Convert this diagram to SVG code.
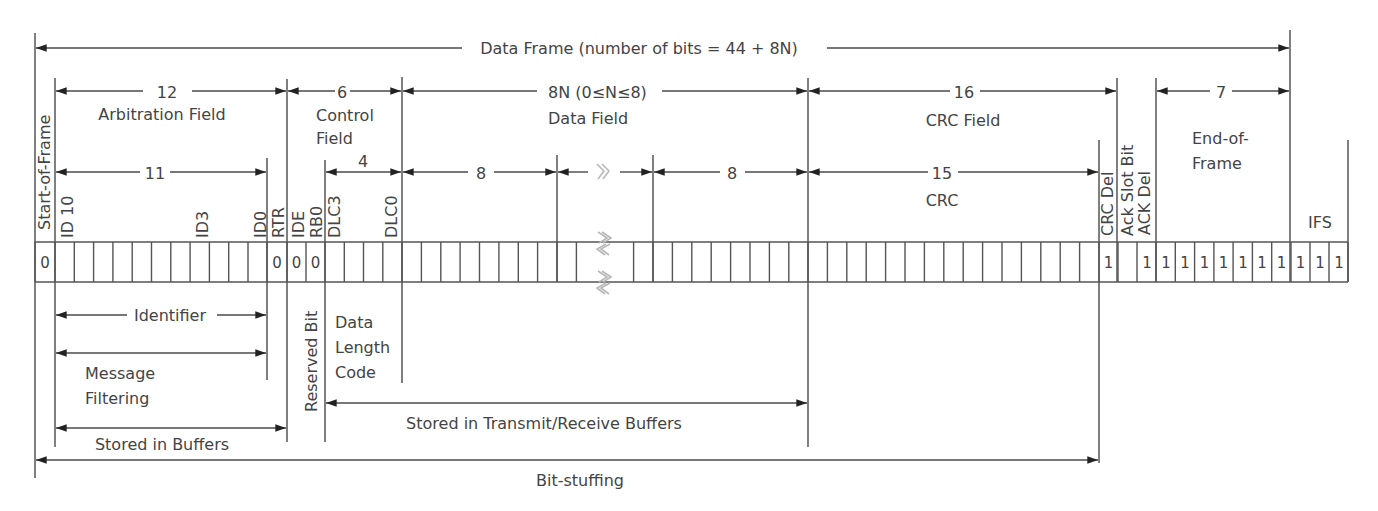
<svg xmlns="http://www.w3.org/2000/svg" width="1378" height="511" viewBox="0 0 1378 511">
<defs>
<marker id="ae" viewBox="0 0 10 7" refX="10" refY="3.5" markerWidth="11" markerHeight="7.5" markerUnits="userSpaceOnUse" orient="auto"><path d="M0,0 L10,3.5 L0,7 z" fill="#222"/></marker>
<marker id="as" viewBox="0 0 10 7" refX="0" refY="3.5" markerWidth="11" markerHeight="7.5" markerUnits="userSpaceOnUse" orient="auto"><path d="M10,0 L0,3.5 L10,7 z" fill="#222"/></marker>
<style>
.ln{stroke:#4a4a4a;stroke-width:1.4;fill:none}
.cl{stroke:#555;stroke-width:1.4;fill:none}
.d{stroke:#4a4a4a;stroke-width:1.4;fill:none}
.ds{marker-start:url(#as)}
.de{marker-end:url(#ae)}
.br{stroke:#b8b8b8;stroke-width:1.6;fill:none}
text{font-family:"DejaVu Sans","Liberation Sans",sans-serif;font-size:16px;fill:#444}
.c{text-anchor:middle;dominant-baseline:central}
.l{dominant-baseline:central}
.b{font-size:15px;text-anchor:middle;dominant-baseline:central}
</style>
</defs>
<rect width="1378" height="511" fill="#ffffff"/>

<g id="connectors">
<path class="ln" d="M35,33 V478 M55,78 V447 M267,158 V380 M287,79 V442 M325,160 V442 M402,77 V383 M808,78 V447 M1099,140 V463 M1117,78 V282 M1156,78 V282 M1290,30 V282 M1348,140 V282 M557,155 V282 M653,155 V282"/>
<path class="d ds" d="M36,48 H462"/>
<path class="d de" d="M827,48 H1289"/>
<path class="d ds" d="M56,91 H143"/><path class="d de" d="M192,91 H286"/>
<path class="d ds" d="M288,91 H335"/><path class="d de" d="M350,91 H401"/>
<path class="d ds" d="M403,91 H537"/><path class="d de" d="M662,91 H807"/>
<path class="d ds" d="M809,91 H950"/><path class="d de" d="M980,91 H1116"/>
<path class="d ds" d="M1157,91 H1210"/><path class="d de" d="M1232,91 H1289"/>
<path class="d ds" d="M56,172 H140"/><path class="d de" d="M170,172 H266"/>
<path class="d ds de" d="M326,172 H401"/>
<path class="d ds" d="M403,172 H468"/><path class="d de" d="M494,172 H556"/>
<path class="d ds" d="M558,172 H588"/><path class="d de" d="M620,172 H652"/>
<path class="d ds" d="M654,172 H720"/><path class="d de" d="M745,172 H807"/>
<path class="d ds" d="M809,172 H928"/><path class="d de" d="M958,172 H1098"/>
<path class="d ds" d="M56,315 H127"/><path class="d de" d="M217,315 H266"/>
<path class="d ds de" d="M56,353 H266"/>
<path class="d ds de" d="M56,428 H286"/>
<path class="d ds de" d="M326,403 H807"/>
<path class="d ds de" d="M36,460 H1098"/>
<path class="br" d="M597,164 L604,171 L598,179 M602,164 L609,171 L603,179"/>
</g>

<g id="bit-row">
<path class="cl" d="M35,242 H1348 M35,282 H1348"/>
<path class="cl" d="M35,242V282 M55,242V282 M74.3,242V282 M93.6,242V282 M112.9,242V282 M132.2,242V282 M151.5,242V282 M170.8,242V282 M190.1,242V282 M209.4,242V282 M228.7,242V282 M248,242V282 M267,242V282 M287,242V282 M306,242V282 M325,242V282 M344.3,242V282 M363.5,242V282 M382.8,242V282 M402,242V282 M421.4,242V282 M440.8,242V282 M460.1,242V282 M479.5,242V282 M498.9,242V282 M518.3,242V282 M537.6,242V282 M557,242V282 M576.4,242V282 M633.6,242V282 M653,242V282 M672.4,242V282 M691.8,242V282 M711.2,242V282 M730.6,242V282 M750,242V282 M769.4,242V282 M788.8,242V282 M808,242V282 M827.4,242V282 M846.8,242V282 M866.2,242V282 M885.6,242V282 M905,242V282 M924.4,242V282 M943.8,242V282 M963.2,242V282 M982.6,242V282 M1002,242V282 M1021.4,242V282 M1040.8,242V282 M1060.2,242V282 M1079.6,242V282 M1099,242V282 M1118,242V282 M1137,242V282 M1156,242V282 M1175.3,242V282 M1194.6,242V282 M1213.9,242V282 M1233.1,242V282 M1252.4,242V282 M1271.7,242V282 M1291,242V282 M1310,242V282 M1329,242V282 M1348,242V282"/>
<path class="br" d="M598,232 L607,238 L599,243 M602,232 L611,238 L603,243 M606,244 L597,249 L605,255 M610,244 L601,249 L609,255"/>
<path class="br" d="M598,271 L607,277 L599,282 M602,271 L611,277 L603,282 M606,283 L597,288 L605,294 M610,283 L601,288 L609,294"/>
<text class="b" x="45" y="263">0</text>
<text class="b" x="277" y="263">0</text>
<text class="b" x="296.5" y="263">0</text>
<text class="b" x="315.5" y="263">0</text>
<text class="b" x="1108.5" y="263">1</text>
<text class="b" x="1147" y="263">1</text>
<text class="b" x="1166" y="263">1</text>
<text class="b" x="1185" y="263">1</text>
<text class="b" x="1204.5" y="263">1</text>
<text class="b" x="1223.5" y="263">1</text>
<text class="b" x="1243" y="263">1</text>
<text class="b" x="1262" y="263">1</text>
<text class="b" x="1281.5" y="263">1</text>
<text class="b" x="1300.5" y="263">1</text>
<text class="b" x="1320" y="263">1</text>
<text class="b" x="1339" y="263">1</text>
</g>

<g id="data-frame"><text class="c" x="639" y="48">Data Frame (number of bits = 44 + 8N)</text></g>
<g id="start-of-frame"><text transform="translate(50,230) rotate(-90)">Start-of-Frame</text></g>
<g id="arbitration-field">
<text class="c" x="167" y="92">12</text>
<text class="c" x="162" y="114">Arbitration Field</text>
<text class="c" x="155" y="173">11</text>
<text transform="translate(73,238) rotate(-90)">ID 10</text>
<text transform="translate(208,238) rotate(-90)">ID3</text>
<text transform="translate(266,238) rotate(-90)">ID0</text>
<text transform="translate(284,238) rotate(-90)">RTR</text>
</g>
<g id="control-field">
<text class="c" x="342" y="92">6</text>
<text class="l" x="316" y="115">Control</text>
<text class="l" x="316" y="138">Field</text>
<text class="c" x="363" y="161">4</text>
<text transform="translate(304,238) rotate(-90)">IDE</text>
<text transform="translate(322,238) rotate(-90)">RB0</text>
<text transform="translate(340,238) rotate(-90)">DLC3</text>
<text transform="translate(397,238) rotate(-90)">DLC0</text>
</g>
<g id="data-field">
<text class="l" x="548" y="92">8N (0≤N≤8)</text>
<text class="l" x="548" y="118">Data Field</text>
<text class="c" x="481" y="173">8</text>
<text class="c" x="732" y="173">8</text>
</g>
<g id="crc-field">
<text class="c" x="964" y="92">16</text>
<text class="c" x="963" y="120">CRC Field</text>
<text class="c" x="942" y="173">15</text>
<text class="c" x="942" y="200">CRC</text>
</g>
<g id="ack-field">
<text transform="translate(1113,236) rotate(-90)">CRC Del</text>
<text transform="translate(1133,236) rotate(-90)">Ack Slot Bit</text>
<text transform="translate(1150,235) rotate(-90)">ACK Del</text>
</g>
<g id="end-of-frame">
<text class="c" x="1221" y="92">7</text>
<text class="l" x="1192" y="138">End-of-</text>
<text class="l" x="1192" y="163">Frame</text>
</g>
<g id="ifs"><text class="c" x="1320" y="222">IFS</text></g>
<g id="identifier"><text class="c" x="170" y="315">Identifier</text></g>
<g id="message-filtering">
<text class="l" x="85" y="373">Message</text>
<text class="l" x="85" y="398">Filtering</text>
</g>
<g id="stored-in-buffers"><text class="c" x="162" y="444">Stored in Buffers</text></g>
<g id="reserved-bit"><text transform="translate(317,412) rotate(-90)">Reserved Bit</text></g>
<g id="data-length-code">
<text class="l" x="335" y="322">Data</text>
<text class="l" x="335" y="347">Length</text>
<text class="l" x="335" y="372">Code</text>
</g>
<g id="stored-in-tr-buffers"><text class="c" x="544" y="423">Stored in Transmit/Receive Buffers</text></g>
<g id="bit-stuffing"><text class="c" x="580" y="480">Bit-stuffing</text></g>
</svg>
